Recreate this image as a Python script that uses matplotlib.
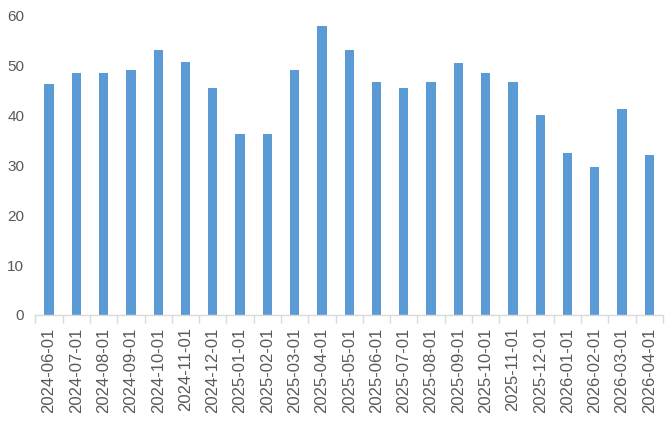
import matplotlib
matplotlib.use("Agg")
import matplotlib.pyplot as plt
import numpy as np

dates = [
    "2024-06-01", "2024-07-01", "2024-08-01", "2024-09-01", "2024-10-01",
    "2024-11-01", "2024-12-01", "2025-01-01", "2025-02-01", "2025-03-01",
    "2025-04-01", "2025-05-01", "2025-06-01", "2025-07-01", "2025-08-01",
    "2025-09-01", "2025-10-01", "2025-11-01", "2025-12-01", "2026-01-01",
    "2026-02-01", "2026-03-01", "2026-04-01",
]
values = [
    46.4, 48.5, 48.5, 49.2, 53.2, 50.8, 45.5, 36.4, 36.4, 49.2,
    57.9, 53.2, 46.8, 45.5, 46.8, 50.5, 48.5, 46.8, 40.1, 32.4,
    29.7, 41.4, 32.1,
]
y_ticks = [0, 10, 20, 30, 40, 50, 60]

plt.rcParams["font.family"] = ["Liberation Sans", "DejaVu Sans"]

fig = plt.figure(figsize=(6.69, 4.32), dpi=100)
ax = fig.add_axes([0.053, 0.271, 0.938, 0.692])

x = np.arange(len(dates))
ax.bar(x, values, width=0.34, color="#5B9BD5", zorder=2)

ax.set_xlim(-0.5, len(dates) - 0.5)
ax.set_ylim(0, 60)
ax.set_yticks(y_ticks)
ax.tick_params(axis="y", length=0, labelsize=11, labelcolor="#595959", pad=8)

ax.set_xticks(x)
ax.set_xticklabels(dates, rotation=90, fontsize=12, color="#595959")
ax.set_xticks(np.arange(-0.5, len(dates)), minor=True)
ax.tick_params(axis="x", which="major", length=0, pad=9)
ax.tick_params(axis="x", which="minor", length=6, color="#D9D9D9", width=1)

for side in ["top", "right", "left"]:
    ax.spines[side].set_visible(False)
ax.spines["bottom"].set_color("#D9D9D9")
ax.spines["bottom"].set_linewidth(1)

fig.savefig("out.png", dpi=100)
